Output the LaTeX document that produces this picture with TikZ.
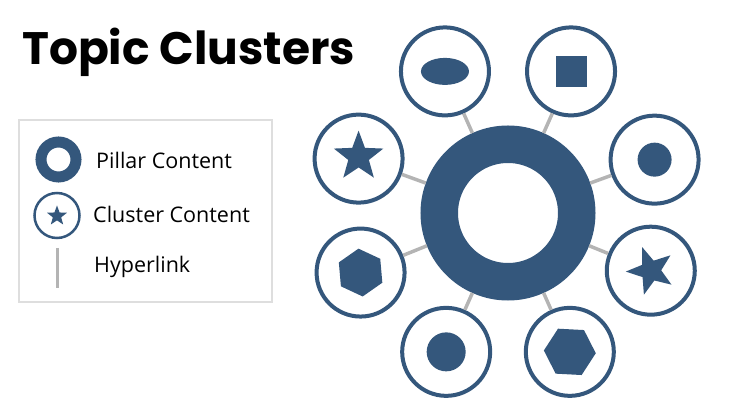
\documentclass[tikz,border=0pt]{standalone}
\usepackage{fontspec}
\setmainfont{Open Sans}
\newfontfamily\titlefont{Poppins}
\usetikzlibrary{shapes.geometric}
\definecolor{pillar}{RGB}{52,87,124}
\definecolor{linkgray}{RGB}{180,180,180}
\definecolor{boxgray}{RGB}{222,222,222}
\tikzset{
  pillar/.style={circle, draw=pillar, line width=37.5pt, fill=white, inner sep=0pt, minimum size=137.5pt},
  cluster/.style={circle, draw=pillar, line width=4pt, fill=white, inner sep=0pt, minimum size=88pt},
  glyph/.style={fill=pillar, inner sep=0pt},
  link/.style={draw=linkgray, line width=3.5pt},
  legend/.style={anchor=base west, inner sep=0pt, font=\fontsize{21.5}{24}\selectfont}
}
\begin{document}
\begin{tikzpicture}[x=1pt,y=1pt]
      \useasboundingbox (0,0) rectangle (740,410);
      \node[anchor=base west, inner sep=0pt, font=\titlefont\bfseries\fontsize{45.5}{48}\selectfont]
        (title) at (22,345) {Topic Clusters};
      % legend
      \draw[boxgray, line width=2pt] (19,290) rectangle (272,108);
      \node[circle, draw=pillar, line width=11pt, inner sep=0pt, minimum size=35pt] (lp) at (58.5,250.5) {};
      \node[circle, draw=pillar, line width=2.5pt, inner sep=0pt, minimum size=45pt] (lc) at (57,194.5) {};
      \node[star, star points=5, star point ratio=2.4, minimum size=21pt, glyph] (ls) at (57,194) {};
      \coordinate (lh1) at (57,162);
      \coordinate (lh2) at (57,122);
      \draw[link, line width=3pt] (lh1) -- (lh2);
      \node[legend] (tp) at (96,241) {Pillar Content};
      \node[legend] (tc) at (93,187) {Cluster Content};
      \node[legend] (th) at (94,137) {Hyperlink};
      % topic cluster
      \begin{scope}[shift={(508,197)}]
      \node[pillar] (0) at (0,0) {};
      \draw
        (114:155) node[cluster] (1){}
        (66:155) node[cluster] (2){}
        (20:156) node[cluster] (3){}
        (-22:154) node[cluster] (4){}
        (-66:152) node[cluster] (5){}
        (-114:152) node[cluster] (6){}
        (-158:159) node[cluster] (7){}
        (160:159) node[cluster] (8){};
      \begin{scope}[-]
        \draw[link] (0) to (1);
        \draw[link] (0) to (2);
        \draw[link] (0) to (3);
        \draw[link] (0) to (4);
        \draw[link] (0) to (5);
        \draw[link] (0) to (6);
        \draw[link] (0) to (7);
        \draw[link] (0) to (8);
      \end{scope}
      \node[ellipse, glyph, minimum width=48pt, minimum height=27pt] (1m) at (1) {};
      \node[rectangle, glyph, minimum size=31pt] (2m) at (2) {};
      \node[circle, glyph, minimum size=34pt] (3m) at (3) {};
      \node[star, star points=5, star point ratio=2.4, minimum size=50pt, rotate=20, glyph] (4m) at (4) {};
      \node[regular polygon, regular polygon sides=6, glyph, minimum size=52pt, rotate=-3] (5m) at (5) {};
      \node[circle, glyph, minimum size=39pt] (6m) at (6) {};
      \node[regular polygon, regular polygon sides=6, glyph, minimum size=48pt, rotate=35] (7m) at (7) {};
      \node[star, star points=5, star point ratio=2.4, minimum size=52pt, glyph] (8m) at ([yshift=2pt]8) {};
      \end{scope}
    \end{tikzpicture}
\end{document}
